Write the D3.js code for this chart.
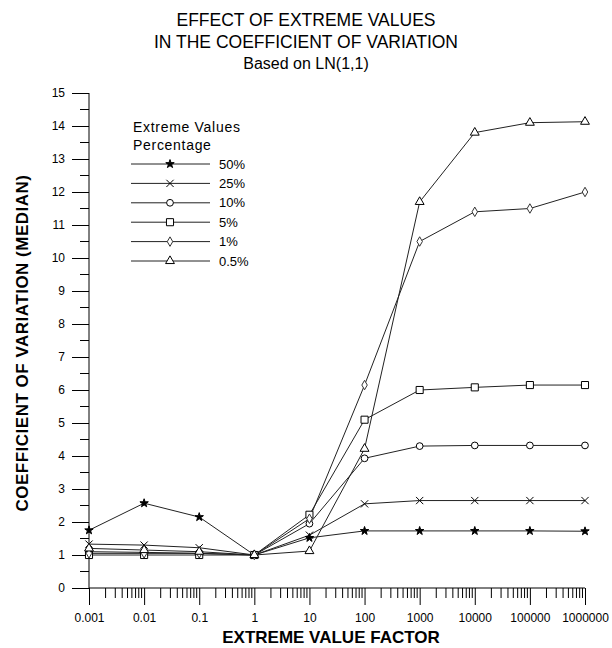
<!DOCTYPE html>
<html>
<head>
<meta charset="utf-8">
<script src="https://cdn.jsdelivr.net/npm/d3@7"></script>
<style>
  body { margin: 0; background: #fff; }
  svg { display: block; font-family: "Liberation Sans", Arial, sans-serif; }
</style>
</head>
<body>
<svg id="chart" width="612" height="648"></svg>
<script>
// Extreme value factors (x) and median coefficient of variation per percentage
const factors = [0.001, 0.01, 0.1, 1, 10, 100, 1000, 10000, 100000, 1000000];
const factorLabels = ["0.001", "0.01", "0.1", "1", "10", "100", "1000", "10000", "100000", "1000000"];
const yTicks = [0, 1, 2, 3, 4, 5, 6, 7, 8, 9, 10, 11, 12, 13, 14, 15];

const pct50  = [1.75, 2.57, 2.15, 1.0, 1.52, 1.73, 1.73, 1.73, 1.73, 1.72];
const pct25  = [1.33, 1.3, 1.22, 1.0, 1.6, 2.55, 2.65, 2.65, 2.65, 2.65];
const pct10  = [1.1, 1.08, 1.05, 1.0, 1.95, 3.93, 4.3, 4.32, 4.32, 4.32];
const pct5   = [1.0, 1.0, 1.0, 1.0, 2.22, 5.1, 6.0, 6.08, 6.15, 6.15];
const pct1   = [1.05, 1.05, 1.05, 1.0, 2.1, 6.15, 10.5, 11.4, 11.5, 12.0];
const pct05  = [1.2, 1.15, 1.1, 1.0, 1.12, 4.22, 11.7, 13.8, 14.1, 14.13];

const seriesNames = ["50%", "25%", "10%", "5%", "1%", "0.5%"];
const seriesValues = [pct50, pct25, pct10, pct5, pct1, pct05];
const seriesSymbols = [
  { type: d3.symbolStar, size: 22, fill: "#000", stroke: "#000" },
  { type: d3.symbolTimes, size: 36, fill: "none", stroke: "#000" },
  { type: d3.symbolCircle, size: 36, fill: "#fff", stroke: "#000" },
  { type: d3.symbolSquare, size: 50, fill: "#fff", stroke: "#000" },
  { type: d3.symbolDiamond, size: 26, fill: "#fff", stroke: "#333" },
  { type: d3.symbolTriangle, size: 34, fill: "#fff", stroke: "#000" }
];

const svg = d3.select("#chart");
const x = d3.scaleLog().domain([0.001, 1000000]).range([89, 585]);
const y = d3.scaleLinear().domain([0, 15]).range([588, 93]);

// Titles
const title = svg.append("g").attr("text-anchor", "middle").attr("fill", "#000");
title.append("text").attr("x", 306).attr("y", 26).attr("font-size", 17.5).text("EFFECT OF EXTREME VALUES");
title.append("text").attr("x", 306).attr("y", 48).attr("font-size", 17.5).text("IN THE COEFFICIENT OF VARIATION");
title.append("text").attr("x", 306).attr("y", 69).attr("font-size", 16).text("Based on LN(1,1)");

// Y axis: major ticks at integers, minor at halves
const yAxis = svg.append("g").attr("transform", "translate(89,0)")
  .call(d3.axisLeft(y).tickValues(yTicks).tickSize(17).tickPadding(7).tickFormat(d3.format("d")));
yAxis.select(".domain").attr("d", `M0,${y(15)}V${y(0)}`);
yAxis.selectAll("text").attr("font-size", 12).attr("font-family", "Liberation Sans, Arial, sans-serif");
const halfTicks = d3.range(0.5, 15, 1);
yAxis.selectAll(".minor").data(halfTicks).join("line")
  .attr("class", "minor").attr("x1", -9).attr("x2", 0)
  .attr("y1", d => y(d)).attr("y2", d => y(d)).attr("stroke", "#000");

// X axis: log scale, major ticks per decade with minor ticks 2..9
const xAxis = svg.append("g").attr("transform", "translate(0,588)")
  .call(d3.axisBottom(x).tickValues(factors).tickSize(17).tickPadding(8)
    .tickFormat((d, i) => factorLabels[i]));
xAxis.select(".domain").attr("d", `M${x(0.001)},0H${x(1000000)}`);
xAxis.selectAll("text").attr("font-size", 12).attr("font-family", "Liberation Sans, Arial, sans-serif");
const minorX = [];
factors.slice(0, -1).forEach(f => { for (let k = 2; k <= 9; k++) minorX.push(f * k); });
xAxis.selectAll(".minor").data(minorX).join("line")
  .attr("class", "minor").attr("y1", 0).attr("y2", 10)
  .attr("x1", d => x(d)).attr("x2", d => x(d)).attr("stroke", "#000");

// Axis titles
svg.append("text").attr("x", 331).attr("y", 643).attr("text-anchor", "middle")
  .attr("font-size", 17).attr("font-weight", "bold").text("EXTREME VALUE FACTOR");
svg.append("text").attr("transform", "translate(28,343) rotate(-90)").attr("text-anchor", "middle")
  .attr("font-size", 17).attr("font-weight", "bold").attr("letter-spacing", 0.5)
  .text("COEFFICIENT OF VARIATION (MEDIAN)");

// Series lines and markers
const line = d3.line().x((d, i) => x(factors[i])).y(d => y(d));
const plot = svg.append("g");
seriesValues.forEach(vals => {
  plot.append("path").attr("d", line(vals)).attr("fill", "none")
    .attr("stroke", "#222").attr("stroke-width", 1);
});
seriesValues.forEach((vals, s) => {
  const sym = seriesSymbols[s];
  plot.append("g").selectAll("path").data(vals).join("path")
    .attr("transform", (d, i) => `translate(${x(factors[i])},${y(d)})`)
    .attr("d", d3.symbol().type(sym.type).size(sym.size)())
    .attr("fill", sym.fill).attr("stroke", sym.stroke).attr("stroke-width", 1);
});

// Legend
const legend = svg.append("g").attr("font-size", 13).attr("fill", "#000");
legend.append("text").attr("x", 133).attr("y", 132).attr("font-size", 14).attr("letter-spacing", 0.7).text("Extreme Values");
legend.append("text").attr("x", 133).attr("y", 150).attr("font-size", 14).attr("letter-spacing", 0.7).text("Percentage");
seriesNames.forEach((name, s) => {
  const ly = 164 + s * 19.4;
  const sym = seriesSymbols[s];
  legend.append("line").attr("x1", 131).attr("x2", 210).attr("y1", ly).attr("y2", ly)
    .attr("stroke", "#222");
  legend.append("path").attr("transform", `translate(170,${ly})`)
    .attr("d", d3.symbol().type(sym.type).size(sym.size)())
    .attr("fill", sym.fill).attr("stroke", sym.stroke);
  legend.append("text").attr("x", 219).attr("y", ly + 4.5).text(name);
});
</script>
</body>
</html>
